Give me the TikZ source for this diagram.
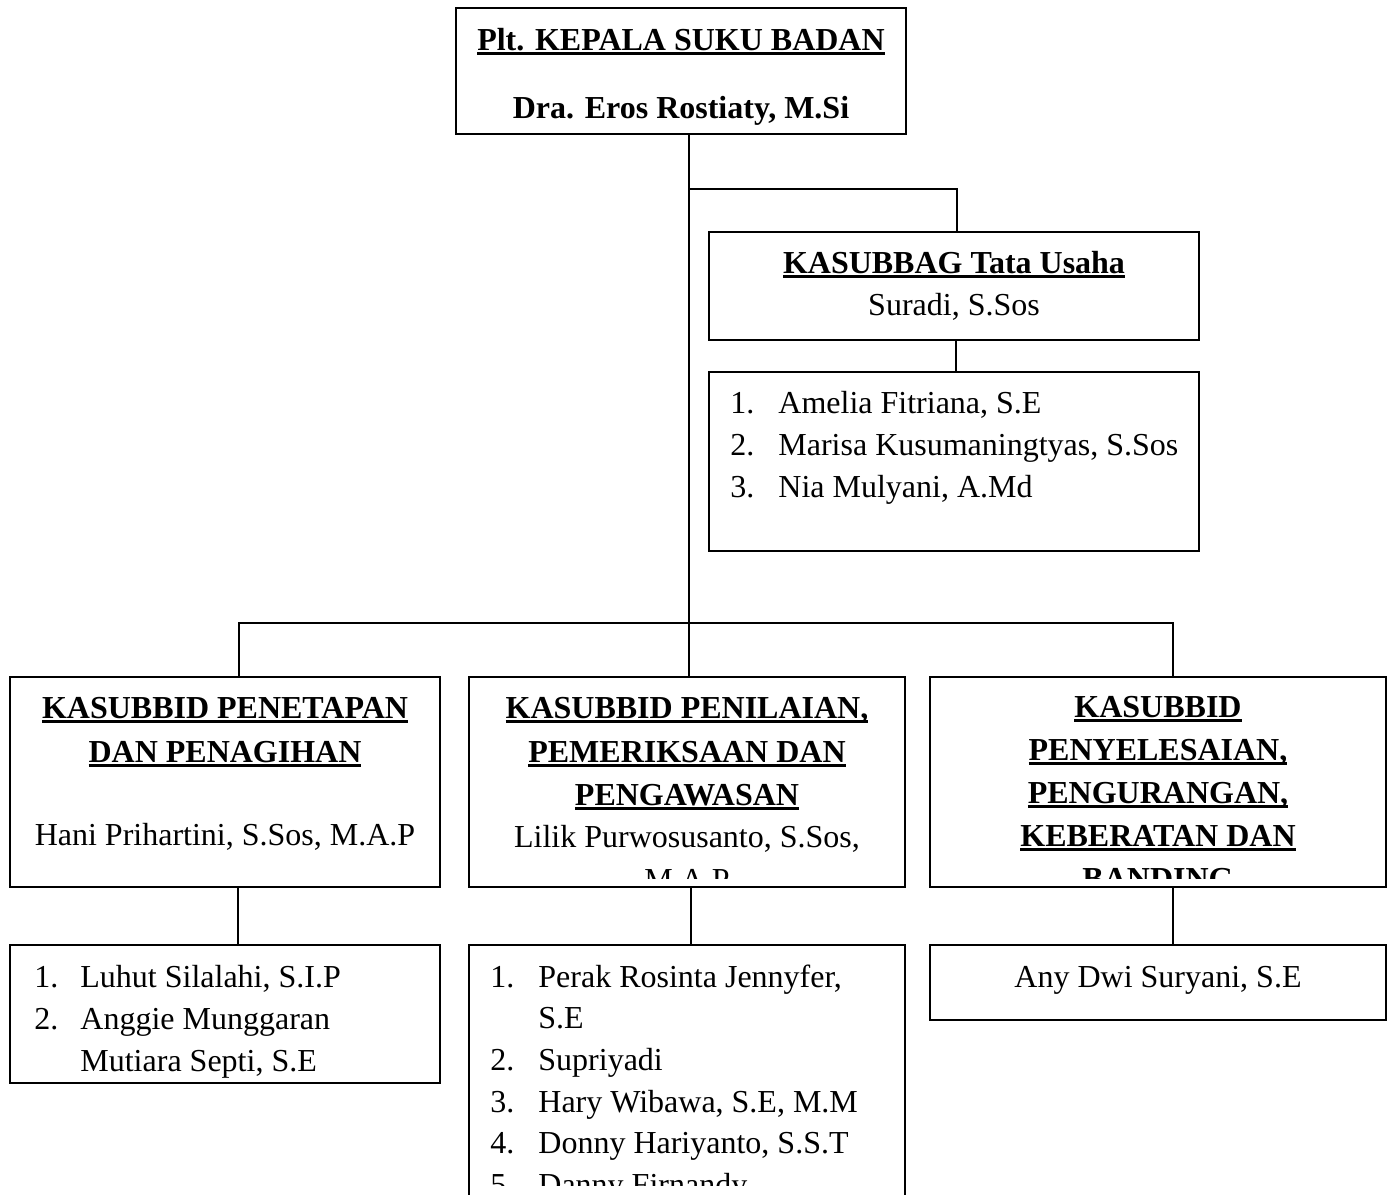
\documentclass[tikz,border=0pt]{standalone}
\usepackage{fontspec}
\setmainfont{Liberation Serif}
\newsavebox\myulbox
\newcommand\myul[1]{\sbox\myulbox{#1}\rlap{\rule[-2.5pt]{\wd\myulbox}{1.3pt}}\usebox\myulbox}
\tikzset{
  box/.style={draw, line width=1pt, inner sep=0pt, anchor=center},
  txt/.style={inner sep=0pt, anchor=base, font=\fontsize{16}{21}\selectfont},
  btxt/.style={inner sep=0pt, anchor=base, font=\fontsize{16}{21}\selectfont\bfseries},
  ltxt/.style={inner sep=0pt, anchor=base west, font=\fontsize{16}{21}\selectfont},
  conn/.style={line width=1pt}
}
\begin{document}
\begin{tikzpicture}[x=0.5pt,y=-0.5pt]
\clip (0,0) rectangle (1390,1194);
\fill[white] (0,0) rectangle (1390,1194);
% boxes
\node[box, minimum width=225pt, minimum height=63pt] (top) at (681,71) {};
\node[box, minimum width=245pt, minimum height=54pt] (tu) at (954,286) {};
\node[box, minimum width=245pt, minimum height=89.5pt] (tus) at (954,461.5) {};
\node[box, minimum width=215pt, minimum height=105pt] (A) at (225,782) {};
\node[box, minimum width=218pt, minimum height=105pt] (B) at (687,782) {};
\node[box, minimum width=228pt, minimum height=105pt] (C) at (1158,782) {};
\node[box, minimum width=215pt, minimum height=69pt] (As) at (225,1014) {};
\node[box, minimum width=218pt, minimum height=128pt] (Bs) at (687,1073) {};
\node[box, minimum width=228pt, minimum height=37.5pt] (Cs) at (1158,982.5) {};
% connector coordinates
\coordinate (sp) at (689,0);
\coordinate (br) at (689,189);
\coordinate (tux) at (957,0);
\coordinate (tusx) at (956,0);
\coordinate (hb) at (689,623);
\coordinate (ax) at (239,0);
\coordinate (cx) at (1173,0);
\coordinate (ax2) at (238,0);
\coordinate (bx2) at (691,0);
% connectors
\draw[conn] (top.south -| sp) -- (B.north -| sp);
\draw[conn] (br) -| (tu.north -| tux);
\draw[conn] (tu.south -| tusx) -- (tus.north -| tusx);
\draw[conn] (A.north -| ax) |- (hb) -| (C.north -| cx);
\draw[conn] (A.south -| ax2) -- (As.north -| ax2);
\draw[conn] (B.south -| bx2) -- (Bs.north -| bx2);
\draw[conn] (C.south -| cx) -- (Cs.north -| cx);
% top box text
\node[btxt] (t1) at (681,50) {\myul{Plt. KEPALA SUKU BADAN}};
\node[btxt] (t2) at (681,118) {Dra. Eros Rostiaty, M.Si};
% tata usaha
\node[btxt] (u1) at (954,273) {\myul{KASUBBAG Tata Usaha}};
\node[txt] (u2) at (954,315) {Suradi, S.Sos};
\node[ltxt] (un1) at (730,413) {1.};
\node[ltxt] (us1) at (778,413) {Amelia Fitriana, S.E};
\node[ltxt] (un2) at (730,455) {2.};
\node[ltxt] (us2) at (778,455) {Marisa Kusumaningtyas, S.Sos};
\node[ltxt] (un3) at (730,497) {3.};
\node[ltxt] (us3) at (778,497) {Nia Mulyani, A.Md};
% box A
\node[btxt] (a1) at (225,718) {\myul{KASUBBID PENETAPAN}};
\node[btxt] (a2) at (225,762) {\myul{DAN PENAGIHAN}};
\node[txt] (a3) at (225,845) {Hani Prihartini, S.Sos, M.A.P};
% box B
\begin{scope}
\clip (470,678) rectangle (904,878);
\node[btxt] (b1) at (687,718) {\myul{KASUBBID PENILAIAN,}};
\node[btxt] (b2) at (687,762) {\myul{PEMERIKSAAN DAN}};
\node[btxt] (b3) at (687,805) {\myul{PENGAWASAN}};
\node[txt] (b4) at (687,847) {Lilik Purwosusanto, S.Sos,};
\node[txt] (b5) at (687,890) {M.A.P};
\end{scope}
% box C
\begin{scope}
\clip (931,678) rectangle (1385,878);
\node[btxt] (c1) at (1158,717) {\myul{KASUBBID}};
\node[btxt] (c2) at (1158,760) {\myul{PENYELESAIAN,}};
\node[btxt] (c3) at (1158,803) {\myul{PENGURANGAN,}};
\node[btxt] (c4) at (1158,846) {\myul{KEBERATAN DAN}};
\node[btxt] (c5) at (1158,889) {\myul{BANDING}};
\end{scope}
% staff A
\node[ltxt] (an1) at (34,987) {1.};
\node[ltxt] (as1) at (80,987) {Luhut Silalahi, S.I.P};
\node[ltxt] (an2) at (34,1029) {2.};
\node[ltxt] (as2) at (80,1029) {Anggie Munggaran};
\node[ltxt] (as3) at (80,1071) {Mutiara Septi, S.E};
% staff B
\begin{scope}
\clip (470,946) rectangle (904,1185);
\node[ltxt] (bn1) at (490,987) {1.};
\node[ltxt] (bs1) at (538,987) {Perak Rosinta Jennyfer,};
\node[ltxt] (bs1b) at (538,1028) {S.E};
\node[ltxt] (bn2) at (490,1070) {2.};
\node[ltxt] (bs2) at (538,1070) {Supriyadi};
\node[ltxt] (bn3) at (490,1112) {3.};
\node[ltxt] (bs3) at (538,1112) {Hary Wibawa, S.E, M.M};
\node[ltxt] (bn4) at (490,1153) {4.};
\node[ltxt] (bs4) at (538,1153) {Donny Hariyanto, S.S.T};
\node[ltxt] (bn5) at (490,1195) {5.};
\node[ltxt] (bs5) at (538,1195) {Danny Firnandy};
\end{scope}
% staff C
\node[txt] (cs1) at (1158,987) {Any Dwi Suryani, S.E};
\end{tikzpicture}
\end{document}
